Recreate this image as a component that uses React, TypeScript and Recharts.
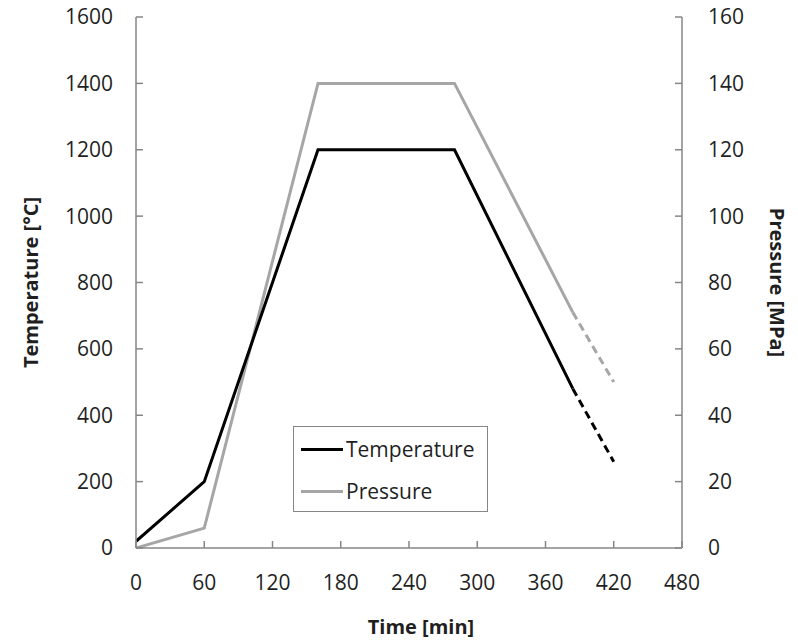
import { Label, Legend, Line, LineChart, XAxis, YAxis } from "recharts";

const time = [0, 60, 160, 280, 384, 420];
const temperature = [20, 200, 1200, 1200, 480, 260];
const pressure = [0, 6, 140, 140, 71, 50];
// index from which the curve is drawn dashed (extrapolated part)
const dashFrom = 4;

const timeTicks = [0, 60, 120, 180, 240, 300, 360, 420, 480];
const tempTicks = [0, 200, 400, 600, 800, 1000, 1200, 1400, 1600];
const presTicks = [0, 20, 40, 60, 80, 100, 120, 140, 160];

const data = time.map((t, i) => ({
  t,
  temp: i <= dashFrom ? temperature[i] : null,
  tempDash: i >= dashFrom ? temperature[i] : null,
  pres: i <= dashFrom ? pressure[i] : null,
  presDash: i >= dashFrom ? pressure[i] : null,
}));

const FONT = "'Open Sans', sans-serif";
const AXIS = "#868686";
const TEXT = "#1f1f1f";
const GRAY = "#a6a6a6";

const tickStyle = { fontSize: 21, fill: TEXT, fontFamily: FONT };

const XTitle = ({ viewBox }: any) => (
  <text
    x={viewBox.x + viewBox.width / 2 + 12}
    y={626}
    textAnchor="middle"
    dominantBaseline="central"
    fontFamily={FONT}
    fontSize={20}
    fontWeight={700}
    fill={TEXT}
  >
    Time [min]
  </text>
);

const LeftTitle = ({ viewBox }: any) => {
  const cy = viewBox.y + viewBox.height / 2;
  return (
    <text
      x={30}
      y={cy}
      transform={`rotate(-90 30 ${cy})`}
      textAnchor="middle"
      dominantBaseline="central"
      fontFamily={FONT}
      fontSize={20}
      fontWeight={700}
      fill={TEXT}
    >
      Temperature [°C]
    </text>
  );
};

const RightTitle = ({ viewBox }: any) => {
  const cy = viewBox.y + viewBox.height / 2;
  return (
    <text
      x={777}
      y={cy}
      transform={`rotate(90 777 ${cy})`}
      textAnchor="middle"
      dominantBaseline="central"
      fontFamily={FONT}
      fontSize={20}
      fontWeight={700}
      fill={TEXT}
    >
      Pressure [MPa]
    </text>
  );
};

const LegendBox = () => (
  <div
    style={{
      width: 195,
      height: 86,
      boxSizing: "border-box",
      border: `1.5px solid ${AXIS}`,
      background: "#fff",
      fontFamily: FONT,
      fontSize: 21,
      color: TEXT,
      paddingLeft: 7,
    }}
  >
    {[
      { name: "Temperature", color: "#000" },
      { name: "Pressure", color: GRAY },
    ].map((item, i) => (
      <div
        key={item.name}
        style={{
          display: "flex",
          alignItems: "center",
          height: 42,
          marginTop: i === 0 ? 1 : 0,
        }}
      >
        <span
          style={{
            display: "inline-block",
            width: 42,
            height: 3,
            background: item.color,
            marginRight: 3,
          }}
        />
        <span>{item.name}</span>
      </div>
    ))}
  </div>
);

export default function App() {
  return (
    <div style={{ position: "absolute", left: 0, top: 0, background: "#fff" }}>
      <LineChart
        width={798}
        height={643}
        data={data}
        margin={{ top: 17, right: 0, bottom: 0, left: 0 }}
      >
        <XAxis
          xAxisId="x"
          dataKey="t"
          type="number"
          domain={[0, 480]}
          ticks={timeTicks}
          allowDataOverflow
          height={95}
          stroke={AXIS}
          strokeWidth={1.5}
          tickSize={-7}
          tickMargin={34}
          tick={tickStyle}
        >
          <Label content={<XTitle />} />
        </XAxis>
        <XAxis
          xAxisId="top"
          orientation="top"
          dataKey="t"
          type="number"
          domain={[0, 480]}
          ticks={timeTicks}
          allowDataOverflow
          height={0}
          stroke={AXIS}
          strokeWidth={1.5}
          tickSize={-7}
          tick={false}
        />
        <YAxis
          yAxisId="temp"
          domain={[0, 1600]}
          ticks={tempTicks}
          allowDataOverflow
          width={136}
          stroke={AXIS}
          strokeWidth={1.5}
          tickSize={-7}
          tickMargin={30}
          tick={tickStyle}
        >
          <Label content={<LeftTitle />} />
        </YAxis>
        <YAxis
          yAxisId="pres"
          orientation="right"
          domain={[0, 160]}
          ticks={presTicks}
          allowDataOverflow
          width={116}
          stroke={AXIS}
          strokeWidth={1.5}
          tickSize={-7}
          tickMargin={33}
          tick={tickStyle}
        >
          <Label content={<RightTitle />} />
        </YAxis>
        <Legend
          layout="vertical"
          align="center"
          verticalAlign="middle"
          content={<LegendBox />}
          wrapperStyle={{ left: 293, top: 426, width: 195, height: 86 }}
        />
        <Line
          xAxisId="x"
          yAxisId="pres"
          dataKey="pres"
          stroke={GRAY}
          strokeWidth={3}
          dot={false}
          isAnimationActive={false}
          legendType="none"
        />
        <Line
          xAxisId="x"
          yAxisId="pres"
          dataKey="presDash"
          stroke={GRAY}
          strokeWidth={3}
          strokeDasharray="8 5"
          dot={false}
          isAnimationActive={false}
          legendType="none"
        />
        <Line
          xAxisId="x"
          yAxisId="temp"
          dataKey="temp"
          stroke="#000"
          strokeWidth={3}
          dot={false}
          isAnimationActive={false}
          legendType="none"
        />
        <Line
          xAxisId="x"
          yAxisId="temp"
          dataKey="tempDash"
          stroke="#000"
          strokeWidth={3}
          strokeDasharray="8 5"
          dot={false}
          isAnimationActive={false}
          legendType="none"
        />
      </LineChart>
    </div>
  );
}
